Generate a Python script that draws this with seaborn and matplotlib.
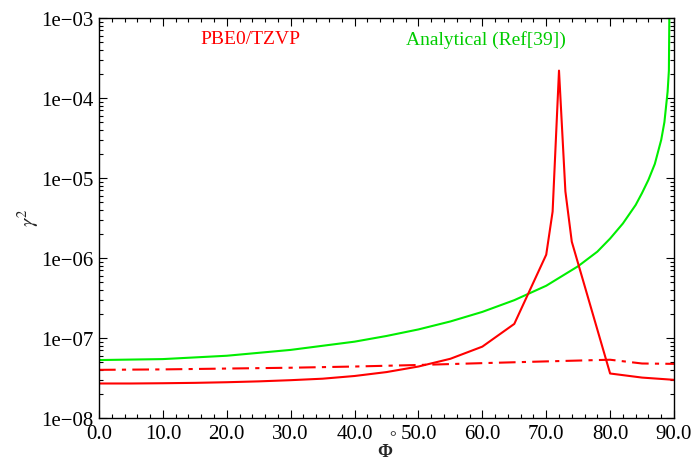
import numpy as np
import pandas as pd
import matplotlib
matplotlib.use("Agg")
import matplotlib.pyplot as plt
import matplotlib.ticker as mticker
import seaborn as sns

# Data
pbe_phi = [0, 5, 10, 15, 20, 25, 30, 35, 40, 45, 50, 55, 60, 65, 70, 71, 72, 73, 74, 80, 85, 90]
pbe_gamma = [2.7e-8, 2.7e-8, 2.72e-8, 2.75e-8, 2.8e-8, 2.87e-8, 2.97e-8, 3.1e-8, 3.35e-8, 3.75e-8,
             4.4e-8, 5.5e-8, 7.8e-8, 1.5e-7, 1.1e-6, 3.8e-6, 2.2e-4, 6.8e-6, 1.6e-6, 3.6e-8,
             3.2e-8, 3.0e-8]

dd_phi = [0, 10, 20, 30, 40, 50, 60, 70, 80, 85, 90]
dd_gamma = [4.0e-8, 4.05e-8, 4.15e-8, 4.25e-8, 4.4e-8, 4.6e-8, 4.85e-8, 5.1e-8, 5.35e-8, 4.8e-8, 4.75e-8]

an_phi = [0, 10, 20, 30, 40, 45, 50, 55, 60, 65, 70, 75, 78, 80, 82, 84, 85, 86, 87, 88, 88.5, 89, 89.2, 89.3]
an_gamma = [5.3e-8, 5.45e-8, 6.0e-8, 7.1e-8, 9.0e-8, 1.06e-7, 1.28e-7, 1.61e-7, 2.12e-7, 2.97e-7,
            4.5e-7, 7.9e-7, 1.2e-6, 1.75e-6, 2.7e-6, 4.6e-6, 6.5e-6, 9.5e-6, 1.5e-5, 3.0e-5,
            5.0e-5, 1.2e-4, 2.2e-4, 2e-3]

x_ticks = [0, 10, 20, 30, 40, 50, 60, 70, 80, 90]
y_ticks = [1e-8, 1e-7, 1e-6, 1e-5, 1e-4, 1e-3]
y_ticklabels = ["1e\u221208", "1e\u221207", "1e\u221206", "1e\u221205", "1e\u221204", "1e\u221203"]

sns.set_theme(style="ticks")
plt.rcParams['font.family'] = ['Liberation Serif', 'DejaVu Serif']
plt.rcParams['mathtext.fontset'] = 'stix'

fig = plt.figure(figsize=(6.94, 4.60), dpi=100)
ax = fig.add_axes([99/694, 1-419/460, (674-99)/694, (419-19)/460])

df_pbe = pd.DataFrame({"phi": pbe_phi, "gamma": pbe_gamma})
df_dd = pd.DataFrame({"phi": dd_phi, "gamma": dd_gamma})
df_an = pd.DataFrame({"phi": an_phi, "gamma": an_gamma})

sns.lineplot(data=df_an, x="phi", y="gamma", ax=ax, color="#00ee00", lw=1.5, estimator=None, sort=False)
sns.lineplot(data=df_dd, x="phi", y="gamma", ax=ax, color="#ff0000", lw=1.5, estimator=None, sort=False)
sns.lineplot(data=df_pbe, x="phi", y="gamma", ax=ax, color="#ff0000", lw=1.5, estimator=None, sort=False)
ax.lines[1].set_linestyle((0, (8, 3, 2, 3)))

ax.set_yscale("log")
ax.set_xlim(0, 90)
ax.set_ylim(1e-8, 1e-3)
ax.set_xticks(x_ticks)
ax.set_xticklabels([f"{v:.1f}" for v in x_ticks])
ax.xaxis.set_minor_locator(mticker.MultipleLocator(2))
ax.set_yticks(y_ticks)
ax.set_yticklabels(y_ticklabels)
ax.yaxis.set_minor_locator(mticker.LogLocator(base=10, subs=np.arange(2, 10)))
ax.yaxis.set_minor_formatter(mticker.NullFormatter())
ax.tick_params(which="both", direction="in", top=True, right=True, colors="black", labelsize=15)
ax.tick_params(which="major", length=6, width=0.8)
ax.tick_params(which="minor", length=3, width=0.8)
for s in ax.spines.values():
    s.set_color("black")
    s.set_linewidth(1.0)
ax.tick_params(axis="x", pad=4)
ax.tick_params(axis="y", pad=4)

ax.set_xlabel("")
ax.set_ylabel("")
fig.text(385/694, 1-453/460, "\u03a6", fontsize=13, fontweight="bold", ha="center", va="center")
fig.text(393/694, 1-438/460, "\u00b0", fontsize=12, ha="center", va="center")
fig.text(28/694, 1-218/460, "$\\gamma^2$", fontsize=15, rotation=90, ha="center", va="center")

ax.text(250/694, 1-40/460, "PBE0/TZVP", transform=fig.transFigure, color="#ff0000",
        fontsize=14, ha="center", va="center")
ax.text(486/694, 1-40/460, "Analytical (Ref[39])", transform=fig.transFigure, color="#00cc00",
        fontsize=14, ha="center", va="center")

fig.savefig("out.png", dpi=100)
